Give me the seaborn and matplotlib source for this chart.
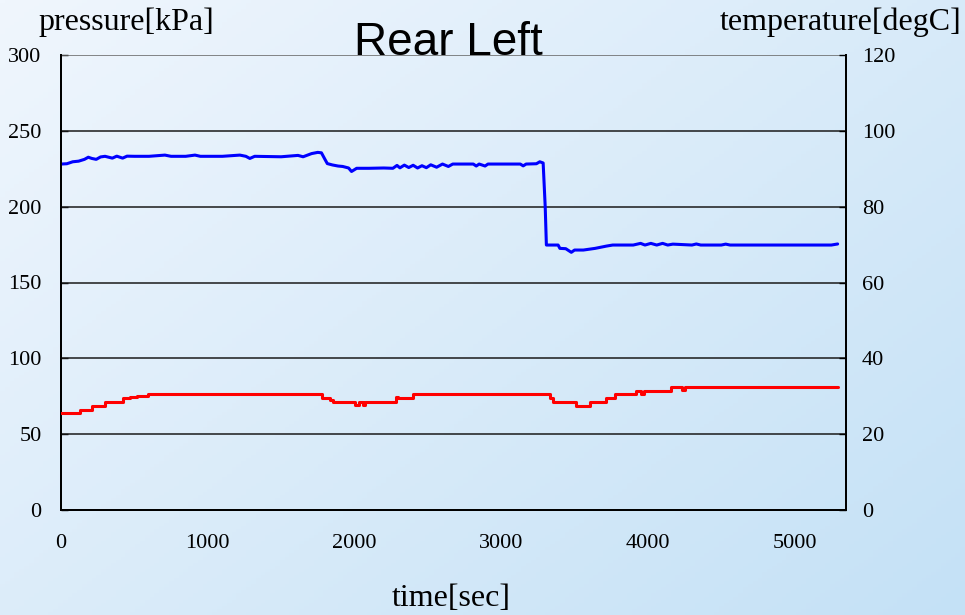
import numpy as np
import pandas as pd
import matplotlib
matplotlib.use("Agg")
import matplotlib.pyplot as plt
import seaborn as sns

# ---------------- data ----------------
time_p = [0, 40, 80, 120, 160, 186, 210, 240, 270, 300, 350, 380, 420, 450, 500,
          600, 708, 750, 850, 913, 950, 1100, 1219, 1260, 1287, 1320, 1500, 1615,
          1650, 1708, 1750, 1775, 1800, 1815, 1850, 1888, 1920, 1960, 1980, 2015,
          2100, 2200, 2262, 2290, 2310, 2340, 2370, 2400, 2430, 2460, 2490, 2520,
          2560, 2600, 2640, 2670, 2810, 2830, 2850, 2890, 2910, 2930, 3130, 3150,
          3170, 3240, 3263, 3286, 3300, 3308, 3330, 3388, 3400, 3440, 3478, 3500,
          3560, 3640, 3717, 3760, 3900, 3950, 3980, 4020, 4060, 4100, 4135, 4170,
          4300, 4330, 4360, 4500, 4530, 4560, 4900, 5250, 5293]
pressure = [228.1, 228.3, 229.6, 230.0, 231.2, 232.6, 231.8, 231.2, 232.8, 233.2,
            232.0, 233.3, 232.0, 233.3, 233.2, 233.2, 234.0, 233.2, 233.2, 234.0,
            233.2, 233.2, 234.0, 233.2, 231.8, 233.2, 232.9, 233.8, 232.9, 235.0,
            235.8, 235.5, 231.0, 228.4, 227.5, 226.8, 226.5, 225.5, 223.2, 225.3,
            225.3, 225.5, 225.3, 227.2, 225.6, 227.4, 225.8, 227.3, 225.5, 227.0,
            225.7, 227.6, 226.0, 228.1, 226.5, 228.1, 228.1, 226.8, 228.1, 226.8,
            228.1, 228.1, 228.1, 226.9, 228.1, 228.3, 229.6, 228.8, 200.0, 174.7,
            174.7, 174.7, 172.5, 172.3, 169.9, 171.4, 171.4, 172.5, 174.0, 174.7,
            174.7, 175.8, 174.7, 175.8, 174.7, 175.8, 174.7, 175.3, 174.7, 175.4,
            174.7, 174.7, 175.3, 174.7, 174.7, 174.7, 175.4]

time_t = [0, 130, 209, 300, 424, 470, 520, 595, 1776, 1830, 1855, 2005, 2030,
          2055, 2075, 2280, 2300, 2400, 3331, 3350, 3380, 3510, 3604, 3717, 3774,
          3922, 3950, 3975, 4160, 4230, 4250, 5293]
temperature = [25.5, 26.4, 27.5, 28.5, 29.5, 29.8, 30.0, 30.5, 29.6, 29.0, 28.5,
               27.6, 28.5, 27.6, 28.5, 29.8, 29.5, 30.5, 29.6, 28.5, 28.4, 27.3,
               28.4, 29.5, 30.5, 31.3, 30.6, 31.3, 32.4, 31.6, 32.4, 32.4]

xticks = [0, 1000, 2000, 3000, 4000, 5000]
pticks = [0, 50, 100, 150, 200, 250, 300]
tticks = [0, 20, 40, 60, 80, 100, 120]

df_p = pd.DataFrame({"time": time_p, "pressure": pressure})
df_t = pd.DataFrame({"time": time_t, "temperature": temperature})

# ---------------- figure ----------------
sns.set_style("white")
plt.rcParams["font.family"] = ["Liberation Serif", "DejaVu Serif"]
plt.rcParams["text.color"] = "black"
plt.rcParams["xtick.color"] = "black"
plt.rcParams["ytick.color"] = "black"
plt.rcParams["xtick.labelcolor"] = "black"
plt.rcParams["ytick.labelcolor"] = "black"

W, H = 965, 615
fig = plt.figure(figsize=(W / 100, H / 100), dpi=100)

# gradient background
bg = fig.add_axes([0, 0, 1, 1], zorder=-10)
xx, yy = np.meshgrid(np.linspace(0, 1, 200), np.linspace(0, 1, 200))
tt = np.clip((xx * 0.55 + yy * 0.45), 0, 1)
c0 = np.array([240, 246, 253]) / 255.0
c1 = np.array([196, 225, 246]) / 255.0
img = c0[None, None, :] * (1 - tt[..., None]) + c1[None, None, :] * tt[..., None]
bg.imshow(img, aspect="auto", extent=[0, 1, 0, 1], origin="upper")
bg.axis("off")

L, R, B, T = 61 / W, 846 / W, 1 - 510 / H, 1 - 55 / H
ax = fig.add_axes([L, B, R - L, T - B])
ax.set_facecolor("none")
ax2 = ax.twinx()
ax2.set_facecolor("none")

sns.lineplot(data=df_p, x="time", y="pressure", ax=ax, color="#0000FF",
             linewidth=2.2, estimator=None, sort=False, zorder=5)
sns.lineplot(data=df_t, x="time", y="temperature", ax=ax2, color="#FF0000",
             linewidth=2.2, estimator=None, sort=False, drawstyle="steps-post",
             zorder=5)

ax.set_xlim(0, 5350)
ax.set_ylim(0, 300)
ax2.set_ylim(0, 120)
ax.set_xticks(xticks)
ax.set_yticks(pticks)
ax2.set_yticks(tticks)
ax.set_xticklabels([str(v) for v in xticks])
ax.set_yticklabels([str(v) for v in pticks])
ax2.set_yticklabels([str(v) for v in tticks])

for a in (ax, ax2):
    a.set_xlabel("")
    a.set_ylabel("")
ax.grid(False)
ax2.grid(False)
for v in pticks[1:]:
    ax.axhline(v, color="#1a1a1a" if v < 300 else "#666666", lw=1.1, zorder=1)

ax.tick_params(axis="x", direction="in", length=6, width=1, pad=17,
               labelsize=16, colors="black")
ax.tick_params(axis="y", direction="in", length=5, width=1, pad=14,
               labelsize=16, colors="black")
ax2.tick_params(axis="y", direction="in", length=5, width=1, pad=11.5,
                labelsize=16, colors="black")

for a in (ax, ax2):
    a.spines["top"].set_visible(False)
    for s in ("left", "bottom", "right"):
        a.spines[s].set_color("black")
        a.spines[s].set_linewidth(1.4)

fig.text(126 / W, 1 - 22 / H, "pressure[kPa]", ha="center", va="center",
         fontsize=23, color="black")
fig.text(841 / W, 1 - 22 / H, "temperature[degC]", ha="center", va="center",
         fontsize=23, color="black")
fig.text(451 / W, 1 - 598 / H, "time[sec]", ha="center", va="center",
         fontsize=23, color="black")
fig.text(448 / W, 1 - 55 / H, "Rear Left", ha="center", va="baseline",
         fontsize=33, family=["Liberation Sans", "DejaVu Sans"], zorder=20,
         color="black")

fig.savefig("out.png", dpi=100)
